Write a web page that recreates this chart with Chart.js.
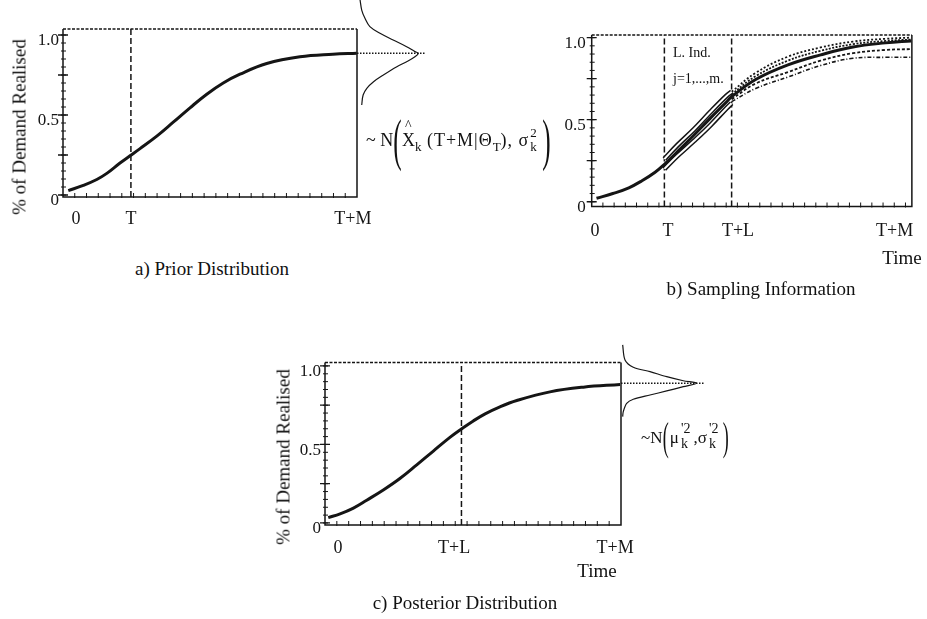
<!DOCTYPE html>
<html>
<head>
<meta charset="utf-8">
<script src="https://cdn.jsdelivr.net/npm/chart.js@4/dist/chart.umd.min.js"></script>
<style>
  html, body { margin:0; padding:0; background:#fff; }
  #wrap { position:relative; width:927px; height:619px; overflow:hidden; font-family:'Liberation Serif','Times New Roman',serif; color:#111; }
  canvas { position:absolute; }
  .t { position:absolute; transform:translate(-50%,-50%); font-size:19px; line-height:1; white-space:nowrap; }
  .rot { transform:translate(-50%,-50%) rotate(-90deg); }
  .s { position:absolute; font-size:14px; line-height:1; white-space:pre; }
  .fx { position:absolute; transform:translateY(-50%); display:flex; align-items:center; white-space:pre; line-height:1; }
  .bp { display:inline-block; line-height:1; transform:scaleX(0.45); margin:0 -5px; }
  .sb { position:relative; top:6px; font-size:13px; }
  .ss { display:inline-flex; flex-direction:column; font-size:13px; line-height:1.05; margin-left:1px; }
  .hat { position:relative; }
  .hat i { position:absolute; left:3px; top:-12px; font-style:normal; font-size:14px; }
  .ls { letter-spacing:1px; }
</style>
</head>
<body>
<div id="wrap">
  <canvas id="ca" width="560" height="240" style="left:0;top:0;width:560px;height:240px"></canvas>
  <canvas id="cb" width="457" height="300" style="left:470px;top:0;width:457px;height:300px"></canvas>
  <canvas id="cc" width="510" height="289" style="left:250px;top:330px;width:510px;height:289px"></canvas>

  <div class="t rot" style="left:19px;top:127px;">% of Demand Realised</div>
  <div class="t" style="left:212px;top:268px;">a) Prior Distribution</div>
  <div class="fx" style="left:366px;top:140px;font-size:18px;"><span>~ N</span><span class="bp" style="font-size:56px">(</span><span class="hat">X<i>^</i></span><span class="sb">k</span><span class="ls"> (T+M|Θ</span><span class="sb">T</span><span class="ls">), σ</span><span class="ss"><span>2</span><span>k</span></span><span class="bp" style="font-size:56px;margin-left:0px">)</span></div>

  <div class="s" style="left:673px;top:46px;">L. Ind.</div>
  <div class="s" style="left:673px;top:72px;">j=1,...,m.</div>
  <div class="t" style="left:902px;top:257px;">Time</div>
  <div class="t" style="left:761px;top:288px;">b) Sampling Information</div>

  <div class="t rot" style="left:283px;top:457px;">% of Demand Realised</div>
  <div class="fx" style="left:641px;top:437px;font-size:17px;"><span>~N</span><span class="bp" style="font-size:40px;margin:0 -3px">(</span><span>μ</span><span class="ss" style="font-size:14px;margin-left:2px"><span>'2</span><span>k</span></span><span style="margin-left:3px">,σ</span><span class="ss" style="font-size:14px;margin-left:2px"><span>'2</span><span>k</span></span><span class="bp" style="font-size:40px;margin:0 -3px 0 1px">)</span></div>
  <div class="t" style="left:597px;top:570px;">Time</div>
  <div class="t" style="left:465px;top:602px;">c) Posterior Distribution</div>
</div>
<script>
// ---------- Panel a: prior distribution ----------
const aTime   = [1.8, 6.9, 11.5, 14.9, 19.4, 22.8, 26.2, 31.9, 37.5, 43.2, 48.9, 54.5, 60.2, 69.3, 80.6, 91.8, 99.9];
const aDemand = [0.027, 0.06, 0.097, 0.135, 0.20, 0.245, 0.29, 0.368, 0.455, 0.545, 0.63, 0.70, 0.755, 0.822, 0.864, 0.88, 0.886];
const aMarkers = [23.1];
const aTickPos = [4.4, 23.1, 98.6];
const aTickLabels = ['0', 'T', 'T+M'];
const aBellDemand  = [1.219, 1.156, 1.104, 1.052, 1.011, 0.969, 0.927, 0.896, 0.886, 0.864, 0.833, 0.802, 0.75, 0.708, 0.667, 0.625, 0.5625];
const aBellDensity = [0.05, 0.077, 0.13, 0.21, 0.375, 0.59, 0.81, 0.945, 1.0, 0.945, 0.81, 0.65, 0.43, 0.27, 0.16, 0.10, 0.077];
const aBellMean = 0.886;
const aBellLineEnd = 1.11;

// ---------- Panel b: sampling information ----------
const bTime = [1.5, 6.6, 11.6, 15.7, 19.8, 22.7, 26.8, 31.9, 37.0, 42.1, 43.7, 51.2, 61.3, 71.5, 81.6, 91.8, 99.8];
const bMain = [0.021, 0.05, 0.085, 0.128, 0.18, 0.228, 0.305, 0.405, 0.508, 0.608, 0.64, 0.745, 0.834, 0.895, 0.943, 0.968, 0.98];
const bBandTime  = [22.7, 26.8, 31.9, 37.0, 42.1, 43.7];
const bBandUpper = [0.26, 0.345, 0.44, 0.545, 0.645, 0.67];
const bBandLower = [0.20, 0.28, 0.37, 0.465, 0.57, 0.60];
const bFanTime = [43.7, 51.2, 61.3, 71.5, 81.6, 91.8, 99.8];
const bFan1 = [0.67, 0.785, 0.884, 0.94, 0.976, 0.993, 1.0];
const bFan2 = [0.655, 0.765, 0.86, 0.92, 0.96, 0.98, 0.988];
const bFan3 = [0.625, 0.72, 0.79, 0.86, 0.905, 0.925, 0.93];
const bFan4 = [0.61, 0.69, 0.76, 0.83, 0.874, 0.88, 0.88];
const bMarkers = [22.7, 43.7];
const bTickPos = [1.0, 23.8, 45.7, 94.6];
const bTickLabels = ['0', 'T', 'T+L', 'T+M'];

// ---------- Panel c: posterior distribution ----------
const cTime   = [1.1, 5.1, 9.6, 14.1, 19.7, 25.3, 31.0, 36.6, 42.2, 46.2, 50.1, 54.1, 59.1, 64.8, 76.0, 87.3, 99.7];
const cDemand = [0.034, 0.058, 0.095, 0.145, 0.21, 0.283, 0.37, 0.458, 0.545, 0.60, 0.65, 0.695, 0.74, 0.78, 0.835, 0.865, 0.882];
const cMarkers = [46.1];
const cMarkerTop = 1.0;
const cTickPos = [4.4, 43.6, 98.0];
const cTickLabels = ['0', 'T+L', 'T+M'];
const cBellDemand  = [1.134, 1.038, 0.992, 0.964, 0.932, 0.906, 0.890, 0.868, 0.841, 0.815, 0.788, 0.762, 0.709, 0.677];
const cBellDensity = [0.022, 0.053, 0.162, 0.383, 0.604, 0.823, 1.0, 0.823, 0.604, 0.383, 0.162, 0.075, 0.03, 0.022];
const cBellMean = 0.89;
const cBellLineEnd = 1.09;

// shared axis ticks
const yTickPos = [0, 0.5, 1.0];
const yTickLabels = ['0', '0.5', '1.0'];
const yMajor = [0, 0.25, 0.5, 0.75, 1.0];
const yMinor = [0,0.05,0.1,0.15,0.2,0.25,0.3,0.35,0.4,0.45,0.5,0.55,0.6,0.65,0.7,0.75,0.8,0.85,0.9,0.95,1.0];
function steps(a, b, s) { const r = []; for (let v = a; v <= b + 1e-9; v += s) r.push(+v.toFixed(3)); return r; }

const INK = '#151515';
Chart.defaults.font.family = "'Liberation Serif','Times New Roman',serif";
Chart.defaults.color = INK;

function pts(xs, ys) { return xs.map((x, i) => ({ x, y: ys[i] })); }
function line(data, o) {
  return Object.assign({ data, showLine: true, pointRadius: 0, borderColor: INK, borderWidth: 3,
    fill: false, tension: 0.4, clip: false, order: 5 }, o);
}

function framePlugin(tk) {
  return {
    id: 'panelFrame',
    afterDatasetsDraw(chart) {
      const { ctx, chartArea: a } = chart;
      const xs = chart.scales.x, ys = chart.scales.y;
      ctx.save();
      ctx.strokeStyle = INK;
      ctx.lineWidth = 1.5;
      ctx.beginPath();
      ctx.moveTo(a.left, a.top); ctx.lineTo(a.left, a.bottom); ctx.lineTo(a.right, a.bottom); ctx.lineTo(a.right, a.top);
      ctx.stroke();
      ctx.setLineDash([3, 1.5]);
      ctx.beginPath(); ctx.moveTo(a.left, a.top); ctx.lineTo(a.right, a.top); ctx.stroke();
      ctx.setLineDash([]);
      ctx.lineWidth = 1;
      ctx.beginPath();
      for (const v of tk.xMinor) { const p = xs.getPixelForValue(v); ctx.moveTo(p, a.bottom + 1); ctx.lineTo(p, a.bottom - 4); }
      for (const v of tk.yMinor) { const p = ys.getPixelForValue(v); ctx.moveTo(a.left - 2, p); ctx.lineTo(a.left + 3, p); }
      ctx.stroke();
      ctx.lineWidth = 1.3;
      ctx.beginPath();
      for (const v of tk.yMajor) { const p = ys.getPixelForValue(v); ctx.moveTo(a.left - 5, p); ctx.lineTo(a.left + 5, p); }
      ctx.stroke();
      ctx.restore();
    }
  };
}

function makeChart(id, L, datasets, tk) {
  const plotW = L.right - L.left;
  const scales = {
    x: {
      type: 'linear', min: 0, max: 100, position: 'bottom',
      afterFit: s => { s.height = L.h - L.bottom; },
      afterBuildTicks: s => { s.ticks = tk.xPos.map(v => ({ value: v })); },
      ticks: { autoSkip: false, maxRotation: 0, padding: L.xPad, font: { size: 18 }, color: INK,
               callback: (v, i) => tk.xLab[i] },
      grid: { display: true, drawOnChartArea: false, drawTicks: false, color: 'rgba(0,0,0,0)' },
      border: { display: false }
    },
    y: {
      type: 'linear', min: L.yMin, max: L.yMax, position: 'left',
      afterFit: s => { s.width = L.left; },
      afterBuildTicks: s => { s.ticks = yTickPos.map(v => ({ value: v })); },
      ticks: { autoSkip: false, padding: L.yPad, labelOffset: 6, font: { size: 17 }, color: INK,
               callback: (v, i) => yTickLabels[i] },
      grid: { display: true, drawOnChartArea: false, drawTicks: false, color: 'rgba(0,0,0,0)' },
      border: { display: false }
    }
  };
  if (L.bellPx) scales.xb = { type: 'linear', display: false, position: 'bottom', min: -plotW / L.bellPx, max: 0 };
  return new Chart(document.getElementById(id), {
    type: 'scatter',
    data: { datasets },
    options: {
      responsive: false, animation: false, events: [],
      layout: { padding: { left: 0, top: L.top, right: L.w - L.right, bottom: 0 } },
      plugins: { legend: { display: false }, tooltip: { enabled: false } },
      scales
    },
    plugins: [framePlugin(tk)]
  });
}

// ---- Panel a ----
const LA = { w: 560, h: 240, left: 63, right: 357, top: 29, bottom: 197, yMin: -0.0125, yMax: 1.0375, xPad: 11, yPad: 4, bellPx: 61.3 };
makeChart('ca', LA, [
  line(pts(aTime, aDemand), { order: 1 }),
  ...aMarkers.map(m => line([{ x: m, y: LA.yMin }, { x: m, y: LA.yMax }], { borderWidth: 1.5, borderDash: [6, 3], tension: 0 })),
  line(pts(aBellDensity, aBellDemand), { xAxisID: 'xb', borderWidth: 1.2, tension: 0.35 }),
  line([{ x: 0, y: aBellMean }, { x: aBellLineEnd, y: aBellMean }], { xAxisID: 'xb', borderWidth: 1.5, borderDash: [1.5, 1.5], tension: 0 })
], { xPos: aTickPos, xLab: aTickLabels, xMinor: steps(4, 96, 4), yMinor, yMajor });

// ---- Panel b ----
const LB = { w: 457, h: 300, left: 121.7, right: 450.7, top: 35, bottom: 206.5, yMin: -0.029, yMax: 1.016, xPad: 13.5, yPad: 6 };
makeChart('cb', LB, [
  line(pts(bTime, bMain), { order: 0 }),
  line(pts(bBandTime, bBandUpper), { borderColor: '#fff', borderWidth: 2, order: 1 }),
  line(pts(bBandTime, bBandLower), { borderColor: '#fff', borderWidth: 2, order: 1 }),
  line(pts(bBandTime, bBandUpper), { borderWidth: 5, order: 2 }),
  line(pts(bBandTime, bBandLower), { borderWidth: 5, order: 2 }),
  line(pts(bFanTime, bFan1), { borderWidth: 1.8, borderDash: [2, 2], order: 3 }),
  line(pts(bFanTime, bFan2), { borderWidth: 1.8, borderDash: [2, 1.5], order: 3 }),
  line(pts(bFanTime, bFan3), { borderWidth: 1.8, borderDash: [3, 2], order: 3 }),
  line(pts(bFanTime, bFan4), { borderWidth: 1.6, borderDash: [4, 2, 1, 2], order: 3 }),
  ...bMarkers.map(m => line([{ x: m, y: LB.yMin }, { x: m, y: LB.yMax }], { borderWidth: 1.5, borderDash: [6, 3], tension: 0, order: 4 }))
], { xPos: bTickPos, xLab: bTickLabels, xMinor: steps(3.5, 98, 3.5), yMinor, yMajor });

// ---- Panel c ----
const LC = { w: 510, h: 289, left: 75, right: 371, top: 32.5, bottom: 195, yMin: -0.013, yMax: 1.022, xPad: 12, yPad: 4, bellPx: 75.7 };
makeChart('cc', LC, [
  line(pts(cTime, cDemand), { order: 1 }),
  ...cMarkers.map(m => line([{ x: m, y: LC.yMin }, { x: m, y: cMarkerTop }], { borderWidth: 1.5, borderDash: [6, 3], tension: 0 })),
  line(pts(cBellDensity, cBellDemand), { xAxisID: 'xb', borderWidth: 1.2, tension: 0.3 }),
  line([{ x: 0, y: cBellMean }, { x: cBellLineEnd, y: cBellMean }], { xAxisID: 'xb', borderWidth: 1.5, borderDash: [1.5, 1.5], tension: 0 })
], { xPos: cTickPos, xLab: cTickLabels, xMinor: steps(4, 96, 4), yMinor, yMajor });
</script>
</body>
</html>
